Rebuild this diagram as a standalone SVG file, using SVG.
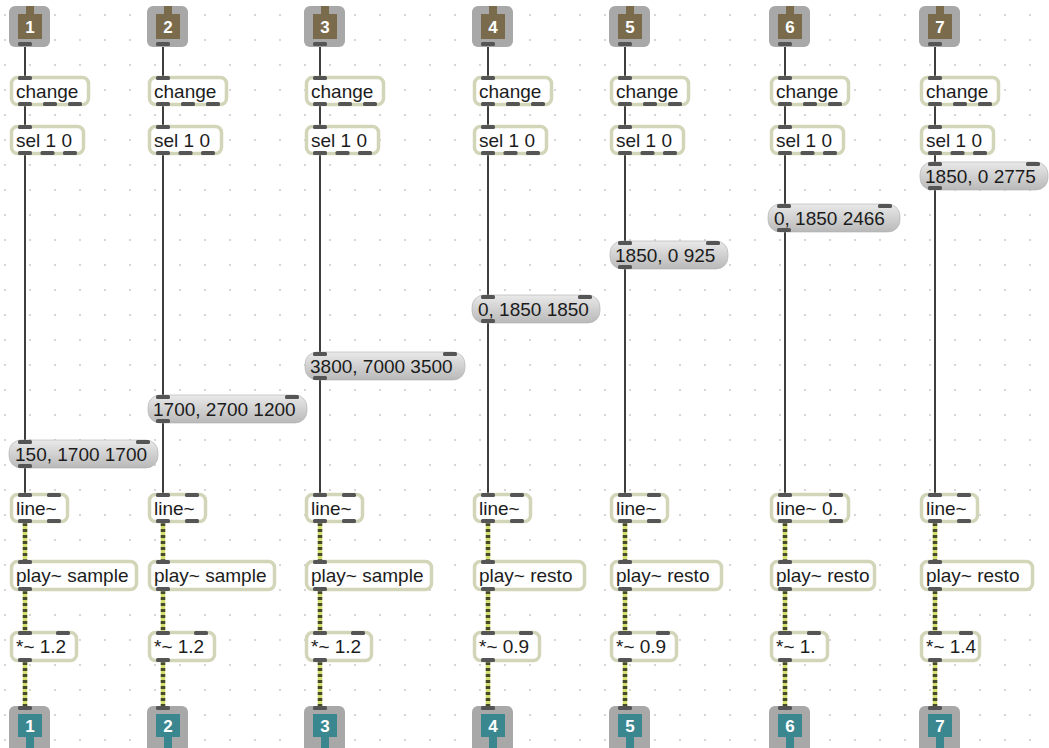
<svg xmlns="http://www.w3.org/2000/svg" width="1049" height="748" viewBox="0 0 1049 748">
<defs>
<pattern id="grid" width="25" height="25" patternUnits="userSpaceOnUse"><circle cx="5" cy="15" r="0.9" fill="#c2c2c2"/></pattern>
<linearGradient id="msgGrad" x1="0" y1="0" x2="0" y2="1"><stop offset="0" stop-color="#e9e9e9"/><stop offset="1" stop-color="#b9b9b9"/></linearGradient>
<style>
.inbox{fill:#a8a8a8}
.brown{fill:#7a6b4c}
.teal{fill:#3b8790}
.num{font-family:"Liberation Sans",Arial,sans-serif;font-size:17px;font-weight:bold;fill:#fff;text-anchor:middle}
.obj{fill:#fff;stroke:#d2d5b8;stroke-width:3.5}
.msg{fill:url(#msgGrad);stroke:#b0b0b0;stroke-width:0.6}
.t{font-family:"Liberation Sans",Arial,sans-serif;font-size:19px;fill:#1c1c1c}
.port{fill:#555}
.ctl{stroke:#2a2a2a;stroke-width:1.8;fill:none}
.sigA{stroke:#d4de6c;stroke-width:4.5;fill:none}
.sigB{stroke:#454b2b;stroke-width:4.5;stroke-dasharray:3 3;fill:none}
</style>
</defs>
<rect width="1049" height="748" fill="#fff"/>
<rect width="1049" height="748" fill="url(#grid)"/>

<g id="connectors">
<g transform="translate(25,0)"><path class="ctl" d="M0,46V77M0,106V125M0,155V440M0,468V493"/><path class="sigA" d="M0,523V560M0,591V631M0,662V706"/><path class="sigB" d="M0,523V560M0,591V631M0,662V706"/></g>
<g transform="translate(163,0)"><path class="ctl" d="M0,46V77M0,106V125M0,155V395M0,423V493"/><path class="sigA" d="M0,523V560M0,591V631M0,662V706"/><path class="sigB" d="M0,523V560M0,591V631M0,662V706"/></g>
<g transform="translate(320,0)"><path class="ctl" d="M0,46V77M0,106V125M0,155V352M0,380V493"/><path class="sigA" d="M0,523V560M0,591V631M0,662V706"/><path class="sigB" d="M0,523V560M0,591V631M0,662V706"/></g>
<g transform="translate(488,0)"><path class="ctl" d="M0,46V77M0,106V125M0,155V295M0,323V493"/><path class="sigA" d="M0,523V560M0,591V631M0,662V706"/><path class="sigB" d="M0,523V560M0,591V631M0,662V706"/></g>
<g transform="translate(625,0)"><path class="ctl" d="M0,46V77M0,106V125M0,155V241M0,269V493"/><path class="sigA" d="M0,523V560M0,591V631M0,662V706"/><path class="sigB" d="M0,523V560M0,591V631M0,662V706"/></g>
<g transform="translate(785,0)"><path class="ctl" d="M0,46V77M0,106V125M0,155V204M0,232V493"/><path class="sigA" d="M0,523V560M0,591V631M0,662V706"/><path class="sigB" d="M0,523V560M0,591V631M0,662V706"/></g>
<g transform="translate(935,0)"><path class="ctl" d="M0,46V77M0,106V125M0,155V162M0,190V493"/><path class="sigA" d="M0,523V560M0,591V631M0,662V706"/><path class="sigB" d="M0,523V560M0,591V631M0,662V706"/></g>
</g>

<!-- column 1 -->
<g id="in1" transform="translate(10,0)"><rect class="inbox" x="-1" y="6" width="41" height="41" rx="6"/><path class="brown" d="M8,14h8v-8h8v8h8v25h-24z"/><text class="num" x="20" y="33">1</text><rect class="port" x="8" y="42" width="14" height="4" rx="1.5"/></g>
<g id="change1" transform="translate(10,0)"><rect class="obj" x="1.5" y="77.5" width="77" height="27" rx="6"/><text class="t" x="6" y="98">change</text><rect class="port" x="8" y="76" width="14" height="4" rx="1.5"/><rect class="port" x="8" y="102" width="14" height="4" rx="1.5"/><rect class="port" x="33" y="102" width="14" height="4" rx="1.5"/><rect class="port" x="58" y="102" width="14" height="4" rx="1.5"/></g>
<g id="sel1" transform="translate(10,0)"><rect class="obj" x="1.5" y="126.5" width="72" height="27" rx="6"/><text class="t" x="6" y="147">sel 1 0</text><rect class="port" x="8" y="125" width="14" height="4" rx="1.5"/><rect class="port" x="8" y="151" width="14" height="4" rx="1.5"/><rect class="port" x="30.5" y="151" width="14" height="4" rx="1.5"/><rect class="port" x="53" y="151" width="14" height="4" rx="1.5"/></g>
<g id="msg1" transform="translate(10,0)"><rect class="msg" x="-1" y="440" width="149" height="28" rx="12"/><text class="t" x="5" y="461">150, 1700 1700</text><rect class="port" x="8" y="440" width="14" height="4" rx="1.5"/><rect class="port" x="126" y="440" width="14" height="4" rx="1.5"/><rect class="port" x="8" y="464" width="14" height="4" rx="1.5"/></g>
<g id="line1" transform="translate(10,0)"><rect class="obj" x="1.5" y="494.5" width="56" height="27" rx="6"/><text class="t" x="6" y="515">line~</text><rect class="port" x="8" y="493" width="14" height="4" rx="1.5"/><rect class="port" x="37" y="493" width="14" height="4" rx="1.5"/><rect class="port" x="8" y="519" width="14" height="4" rx="1.5"/><rect class="port" x="37" y="519" width="14" height="4" rx="1.5"/></g>
<g id="play1" transform="translate(10,0)"><rect class="obj" x="1.5" y="561.5" width="125" height="28" rx="6"/><text class="t" x="6" y="582">play~ sample</text><rect class="port" x="8" y="560" width="14" height="4" rx="1.5"/><rect class="port" x="8" y="587" width="14" height="4" rx="1.5"/></g>
<g id="mul1" transform="translate(10,0)"><rect class="obj" x="1.5" y="632.5" width="65" height="28" rx="6"/><text class="t" x="6" y="653">*~ 1.2</text><rect class="port" x="8" y="631" width="14" height="4" rx="1.5"/><rect class="port" x="46" y="631" width="14" height="4" rx="1.5"/><rect class="port" x="8" y="658" width="14" height="4" rx="1.5"/></g>
<g id="out1" transform="translate(10,0)"><rect class="inbox" x="-1" y="706" width="41" height="48" rx="6"/><path class="teal" d="M8,714h24v23h-8v12h-8v-12h-8z"/><text class="num" x="20" y="732">1</text><rect class="port" x="8" y="706" width="14" height="4" rx="1.5"/></g>

<!-- column 2 -->
<g id="in2" transform="translate(148,0)"><rect class="inbox" x="-1" y="6" width="41" height="41" rx="6"/><path class="brown" d="M8,14h8v-8h8v8h8v25h-24z"/><text class="num" x="20" y="33">2</text><rect class="port" x="8" y="42" width="14" height="4" rx="1.5"/></g>
<g id="change2" transform="translate(148,0)"><rect class="obj" x="1.5" y="77.5" width="77" height="27" rx="6"/><text class="t" x="6" y="98">change</text><rect class="port" x="8" y="76" width="14" height="4" rx="1.5"/><rect class="port" x="8" y="102" width="14" height="4" rx="1.5"/><rect class="port" x="33" y="102" width="14" height="4" rx="1.5"/><rect class="port" x="58" y="102" width="14" height="4" rx="1.5"/></g>
<g id="sel2" transform="translate(148,0)"><rect class="obj" x="1.5" y="126.5" width="72" height="27" rx="6"/><text class="t" x="6" y="147">sel 1 0</text><rect class="port" x="8" y="125" width="14" height="4" rx="1.5"/><rect class="port" x="8" y="151" width="14" height="4" rx="1.5"/><rect class="port" x="30.5" y="151" width="14" height="4" rx="1.5"/><rect class="port" x="53" y="151" width="14" height="4" rx="1.5"/></g>
<g id="msg2" transform="translate(148,0)"><rect class="msg" x="0" y="395" width="159" height="28" rx="12"/><text class="t" x="5" y="416">1700, 2700 1200</text><rect class="port" x="8" y="395" width="14" height="4" rx="1.5"/><rect class="port" x="137" y="395" width="14" height="4" rx="1.5"/><rect class="port" x="8" y="419" width="14" height="4" rx="1.5"/></g>
<g id="line2" transform="translate(148,0)"><rect class="obj" x="1.5" y="494.5" width="56" height="27" rx="6"/><text class="t" x="6" y="515">line~</text><rect class="port" x="8" y="493" width="14" height="4" rx="1.5"/><rect class="port" x="37" y="493" width="14" height="4" rx="1.5"/><rect class="port" x="8" y="519" width="14" height="4" rx="1.5"/><rect class="port" x="37" y="519" width="14" height="4" rx="1.5"/></g>
<g id="play2" transform="translate(148,0)"><rect class="obj" x="1.5" y="561.5" width="125" height="28" rx="6"/><text class="t" x="6" y="582">play~ sample</text><rect class="port" x="8" y="560" width="14" height="4" rx="1.5"/><rect class="port" x="8" y="587" width="14" height="4" rx="1.5"/></g>
<g id="mul2" transform="translate(148,0)"><rect class="obj" x="1.5" y="632.5" width="65" height="28" rx="6"/><text class="t" x="6" y="653">*~ 1.2</text><rect class="port" x="8" y="631" width="14" height="4" rx="1.5"/><rect class="port" x="46" y="631" width="14" height="4" rx="1.5"/><rect class="port" x="8" y="658" width="14" height="4" rx="1.5"/></g>
<g id="out2" transform="translate(148,0)"><rect class="inbox" x="-1" y="706" width="41" height="48" rx="6"/><path class="teal" d="M8,714h24v23h-8v12h-8v-12h-8z"/><text class="num" x="20" y="732">2</text><rect class="port" x="8" y="706" width="14" height="4" rx="1.5"/></g>

<!-- column 3 -->
<g id="in3" transform="translate(305,0)"><rect class="inbox" x="-1" y="6" width="41" height="41" rx="6"/><path class="brown" d="M8,14h8v-8h8v8h8v25h-24z"/><text class="num" x="20" y="33">3</text><rect class="port" x="8" y="42" width="14" height="4" rx="1.5"/></g>
<g id="change3" transform="translate(305,0)"><rect class="obj" x="1.5" y="77.5" width="77" height="27" rx="6"/><text class="t" x="6" y="98">change</text><rect class="port" x="8" y="76" width="14" height="4" rx="1.5"/><rect class="port" x="8" y="102" width="14" height="4" rx="1.5"/><rect class="port" x="33" y="102" width="14" height="4" rx="1.5"/><rect class="port" x="58" y="102" width="14" height="4" rx="1.5"/></g>
<g id="sel3" transform="translate(305,0)"><rect class="obj" x="1.5" y="126.5" width="72" height="27" rx="6"/><text class="t" x="6" y="147">sel 1 0</text><rect class="port" x="8" y="125" width="14" height="4" rx="1.5"/><rect class="port" x="8" y="151" width="14" height="4" rx="1.5"/><rect class="port" x="30.5" y="151" width="14" height="4" rx="1.5"/><rect class="port" x="53" y="151" width="14" height="4" rx="1.5"/></g>
<g id="msg3" transform="translate(305,0)"><rect class="msg" x="0" y="352" width="160" height="28" rx="12"/><text class="t" x="5" y="373">3800, 7000 3500</text><rect class="port" x="8" y="352" width="14" height="4" rx="1.5"/><rect class="port" x="138" y="352" width="14" height="4" rx="1.5"/><rect class="port" x="8" y="376" width="14" height="4" rx="1.5"/></g>
<g id="line3" transform="translate(305,0)"><rect class="obj" x="1.5" y="494.5" width="56" height="27" rx="6"/><text class="t" x="6" y="515">line~</text><rect class="port" x="8" y="493" width="14" height="4" rx="1.5"/><rect class="port" x="37" y="493" width="14" height="4" rx="1.5"/><rect class="port" x="8" y="519" width="14" height="4" rx="1.5"/><rect class="port" x="37" y="519" width="14" height="4" rx="1.5"/></g>
<g id="play3" transform="translate(305,0)"><rect class="obj" x="1.5" y="561.5" width="125" height="28" rx="6"/><text class="t" x="6" y="582">play~ sample</text><rect class="port" x="8" y="560" width="14" height="4" rx="1.5"/><rect class="port" x="8" y="587" width="14" height="4" rx="1.5"/></g>
<g id="mul3" transform="translate(305,0)"><rect class="obj" x="1.5" y="632.5" width="65" height="28" rx="6"/><text class="t" x="6" y="653">*~ 1.2</text><rect class="port" x="8" y="631" width="14" height="4" rx="1.5"/><rect class="port" x="46" y="631" width="14" height="4" rx="1.5"/><rect class="port" x="8" y="658" width="14" height="4" rx="1.5"/></g>
<g id="out3" transform="translate(305,0)"><rect class="inbox" x="-1" y="706" width="41" height="48" rx="6"/><path class="teal" d="M8,714h24v23h-8v12h-8v-12h-8z"/><text class="num" x="20" y="732">3</text><rect class="port" x="8" y="706" width="14" height="4" rx="1.5"/></g>

<!-- column 4 -->
<g id="in4" transform="translate(473,0)"><rect class="inbox" x="-1" y="6" width="41" height="41" rx="6"/><path class="brown" d="M8,14h8v-8h8v8h8v25h-24z"/><text class="num" x="20" y="33">4</text><rect class="port" x="8" y="42" width="14" height="4" rx="1.5"/></g>
<g id="change4" transform="translate(473,0)"><rect class="obj" x="1.5" y="77.5" width="77" height="27" rx="6"/><text class="t" x="6" y="98">change</text><rect class="port" x="8" y="76" width="14" height="4" rx="1.5"/><rect class="port" x="8" y="102" width="14" height="4" rx="1.5"/><rect class="port" x="33" y="102" width="14" height="4" rx="1.5"/><rect class="port" x="58" y="102" width="14" height="4" rx="1.5"/></g>
<g id="sel4" transform="translate(473,0)"><rect class="obj" x="1.5" y="126.5" width="72" height="27" rx="6"/><text class="t" x="6" y="147">sel 1 0</text><rect class="port" x="8" y="125" width="14" height="4" rx="1.5"/><rect class="port" x="8" y="151" width="14" height="4" rx="1.5"/><rect class="port" x="30.5" y="151" width="14" height="4" rx="1.5"/><rect class="port" x="53" y="151" width="14" height="4" rx="1.5"/></g>
<g id="msg4" transform="translate(473,0)"><rect class="msg" x="-1" y="295" width="128" height="28" rx="12"/><text class="t" x="5" y="316">0, 1850 1850</text><rect class="port" x="8" y="295" width="14" height="4" rx="1.5"/><rect class="port" x="105" y="295" width="14" height="4" rx="1.5"/><rect class="port" x="8" y="319" width="14" height="4" rx="1.5"/></g>
<g id="line4" transform="translate(473,0)"><rect class="obj" x="1.5" y="494.5" width="56" height="27" rx="6"/><text class="t" x="6" y="515">line~</text><rect class="port" x="8" y="493" width="14" height="4" rx="1.5"/><rect class="port" x="37" y="493" width="14" height="4" rx="1.5"/><rect class="port" x="8" y="519" width="14" height="4" rx="1.5"/><rect class="port" x="37" y="519" width="14" height="4" rx="1.5"/></g>
<g id="play4" transform="translate(473,0)"><rect class="obj" x="1.5" y="561.5" width="110" height="28" rx="6"/><text class="t" x="6" y="582">play~ resto</text><rect class="port" x="8" y="560" width="14" height="4" rx="1.5"/><rect class="port" x="8" y="587" width="14" height="4" rx="1.5"/></g>
<g id="mul4" transform="translate(473,0)"><rect class="obj" x="1.5" y="632.5" width="65" height="28" rx="6"/><text class="t" x="6" y="653">*~ 0.9</text><rect class="port" x="8" y="631" width="14" height="4" rx="1.5"/><rect class="port" x="46" y="631" width="14" height="4" rx="1.5"/><rect class="port" x="8" y="658" width="14" height="4" rx="1.5"/></g>
<g id="out4" transform="translate(473,0)"><rect class="inbox" x="-1" y="706" width="41" height="48" rx="6"/><path class="teal" d="M8,714h24v23h-8v12h-8v-12h-8z"/><text class="num" x="20" y="732">4</text><rect class="port" x="8" y="706" width="14" height="4" rx="1.5"/></g>

<!-- column 5 -->
<g id="in5" transform="translate(610,0)"><rect class="inbox" x="-1" y="6" width="41" height="41" rx="6"/><path class="brown" d="M8,14h8v-8h8v8h8v25h-24z"/><text class="num" x="20" y="33">5</text><rect class="port" x="8" y="42" width="14" height="4" rx="1.5"/></g>
<g id="change5" transform="translate(610,0)"><rect class="obj" x="1.5" y="77.5" width="77" height="27" rx="6"/><text class="t" x="6" y="98">change</text><rect class="port" x="8" y="76" width="14" height="4" rx="1.5"/><rect class="port" x="8" y="102" width="14" height="4" rx="1.5"/><rect class="port" x="33" y="102" width="14" height="4" rx="1.5"/><rect class="port" x="58" y="102" width="14" height="4" rx="1.5"/></g>
<g id="sel5" transform="translate(610,0)"><rect class="obj" x="1.5" y="126.5" width="72" height="27" rx="6"/><text class="t" x="6" y="147">sel 1 0</text><rect class="port" x="8" y="125" width="14" height="4" rx="1.5"/><rect class="port" x="8" y="151" width="14" height="4" rx="1.5"/><rect class="port" x="30.5" y="151" width="14" height="4" rx="1.5"/><rect class="port" x="53" y="151" width="14" height="4" rx="1.5"/></g>
<g id="msg5" transform="translate(610,0)"><rect class="msg" x="0" y="241" width="118" height="28" rx="12"/><text class="t" x="5" y="262">1850, 0 925</text><rect class="port" x="8" y="241" width="14" height="4" rx="1.5"/><rect class="port" x="96" y="241" width="14" height="4" rx="1.5"/><rect class="port" x="8" y="265" width="14" height="4" rx="1.5"/></g>
<g id="line5" transform="translate(610,0)"><rect class="obj" x="1.5" y="494.5" width="56" height="27" rx="6"/><text class="t" x="6" y="515">line~</text><rect class="port" x="8" y="493" width="14" height="4" rx="1.5"/><rect class="port" x="37" y="493" width="14" height="4" rx="1.5"/><rect class="port" x="8" y="519" width="14" height="4" rx="1.5"/><rect class="port" x="37" y="519" width="14" height="4" rx="1.5"/></g>
<g id="play5" transform="translate(610,0)"><rect class="obj" x="1.5" y="561.5" width="110" height="28" rx="6"/><text class="t" x="6" y="582">play~ resto</text><rect class="port" x="8" y="560" width="14" height="4" rx="1.5"/><rect class="port" x="8" y="587" width="14" height="4" rx="1.5"/></g>
<g id="mul5" transform="translate(610,0)"><rect class="obj" x="1.5" y="632.5" width="65" height="28" rx="6"/><text class="t" x="6" y="653">*~ 0.9</text><rect class="port" x="8" y="631" width="14" height="4" rx="1.5"/><rect class="port" x="46" y="631" width="14" height="4" rx="1.5"/><rect class="port" x="8" y="658" width="14" height="4" rx="1.5"/></g>
<g id="out5" transform="translate(610,0)"><rect class="inbox" x="-1" y="706" width="41" height="48" rx="6"/><path class="teal" d="M8,714h24v23h-8v12h-8v-12h-8z"/><text class="num" x="20" y="732">5</text><rect class="port" x="8" y="706" width="14" height="4" rx="1.5"/></g>

<!-- column 6 -->
<g id="in6" transform="translate(770,0)"><rect class="inbox" x="-1" y="6" width="41" height="41" rx="6"/><path class="brown" d="M8,14h8v-8h8v8h8v25h-24z"/><text class="num" x="20" y="33">6</text><rect class="port" x="8" y="42" width="14" height="4" rx="1.5"/></g>
<g id="change6" transform="translate(770,0)"><rect class="obj" x="1.5" y="77.5" width="77" height="27" rx="6"/><text class="t" x="6" y="98">change</text><rect class="port" x="8" y="76" width="14" height="4" rx="1.5"/><rect class="port" x="8" y="102" width="14" height="4" rx="1.5"/><rect class="port" x="33" y="102" width="14" height="4" rx="1.5"/><rect class="port" x="58" y="102" width="14" height="4" rx="1.5"/></g>
<g id="sel6" transform="translate(770,0)"><rect class="obj" x="1.5" y="126.5" width="72" height="27" rx="6"/><text class="t" x="6" y="147">sel 1 0</text><rect class="port" x="8" y="125" width="14" height="4" rx="1.5"/><rect class="port" x="8" y="151" width="14" height="4" rx="1.5"/><rect class="port" x="30.5" y="151" width="14" height="4" rx="1.5"/><rect class="port" x="53" y="151" width="14" height="4" rx="1.5"/></g>
<g id="msg6" transform="translate(770,0)"><rect class="msg" x="-2" y="204" width="132" height="28" rx="12"/><text class="t" x="4" y="225">0, 1850 2466</text><rect class="port" x="7" y="204" width="14" height="4" rx="1.5"/><rect class="port" x="108" y="204" width="14" height="4" rx="1.5"/><rect class="port" x="7" y="228" width="14" height="4" rx="1.5"/></g>
<g id="line6" transform="translate(770,0)"><rect class="obj" x="1.5" y="494.5" width="77" height="27" rx="6"/><text class="t" x="6" y="515">line~ 0.</text><rect class="port" x="8" y="493" width="14" height="4" rx="1.5"/><rect class="port" x="59" y="493" width="14" height="4" rx="1.5"/><rect class="port" x="8" y="519" width="14" height="4" rx="1.5"/><rect class="port" x="59" y="519" width="14" height="4" rx="1.5"/></g>
<g id="play6" transform="translate(770,0)"><rect class="obj" x="1.5" y="561.5" width="103" height="28" rx="6"/><text class="t" x="6" y="582">play~ resto</text><rect class="port" x="8" y="560" width="14" height="4" rx="1.5"/><rect class="port" x="8" y="587" width="14" height="4" rx="1.5"/></g>
<g id="mul6" transform="translate(770,0)"><rect class="obj" x="1.5" y="632.5" width="56" height="28" rx="6"/><text class="t" x="6" y="653">*~ 1.</text><rect class="port" x="8" y="631" width="14" height="4" rx="1.5"/><rect class="port" x="37" y="631" width="14" height="4" rx="1.5"/><rect class="port" x="8" y="658" width="14" height="4" rx="1.5"/></g>
<g id="out6" transform="translate(770,0)"><rect class="inbox" x="-1" y="706" width="41" height="48" rx="6"/><path class="teal" d="M8,714h24v23h-8v12h-8v-12h-8z"/><text class="num" x="20" y="732">6</text><rect class="port" x="8" y="706" width="14" height="4" rx="1.5"/></g>

<!-- column 7 -->
<g id="in7" transform="translate(920,0)"><rect class="inbox" x="-1" y="6" width="41" height="41" rx="6"/><path class="brown" d="M8,14h8v-8h8v8h8v25h-24z"/><text class="num" x="20" y="33">7</text><rect class="port" x="8" y="42" width="14" height="4" rx="1.5"/></g>
<g id="change7" transform="translate(920,0)"><rect class="obj" x="1.5" y="77.5" width="77" height="27" rx="6"/><text class="t" x="6" y="98">change</text><rect class="port" x="8" y="76" width="14" height="4" rx="1.5"/><rect class="port" x="8" y="102" width="14" height="4" rx="1.5"/><rect class="port" x="33" y="102" width="14" height="4" rx="1.5"/><rect class="port" x="58" y="102" width="14" height="4" rx="1.5"/></g>
<g id="sel7" transform="translate(920,0)"><rect class="obj" x="1.5" y="126.5" width="72" height="27" rx="6"/><text class="t" x="6" y="147">sel 1 0</text><rect class="port" x="8" y="125" width="14" height="4" rx="1.5"/><rect class="port" x="8" y="151" width="14" height="4" rx="1.5"/><rect class="port" x="30.5" y="151" width="14" height="4" rx="1.5"/><rect class="port" x="53" y="151" width="14" height="4" rx="1.5"/></g>
<g id="msg7" transform="translate(920,0)"><rect class="msg" x="0" y="162" width="128" height="28" rx="12"/><text class="t" x="5" y="183">1850, 0 2775</text><rect class="port" x="8" y="162" width="14" height="4" rx="1.5"/><rect class="port" x="106" y="162" width="14" height="4" rx="1.5"/><rect class="port" x="8" y="186" width="14" height="4" rx="1.5"/></g>
<g id="line7" transform="translate(920,0)"><rect class="obj" x="1.5" y="494.5" width="56" height="27" rx="6"/><text class="t" x="6" y="515">line~</text><rect class="port" x="8" y="493" width="14" height="4" rx="1.5"/><rect class="port" x="37" y="493" width="14" height="4" rx="1.5"/><rect class="port" x="8" y="519" width="14" height="4" rx="1.5"/><rect class="port" x="37" y="519" width="14" height="4" rx="1.5"/></g>
<g id="play7" transform="translate(920,0)"><rect class="obj" x="1.5" y="561.5" width="111" height="28" rx="6"/><text class="t" x="6" y="582">play~ resto</text><rect class="port" x="8" y="560" width="14" height="4" rx="1.5"/><rect class="port" x="8" y="587" width="14" height="4" rx="1.5"/></g>
<g id="mul7" transform="translate(920,0)"><rect class="obj" x="1.5" y="632.5" width="58" height="28" rx="6"/><text class="t" x="6" y="653">*~ 1.4</text><rect class="port" x="8" y="631" width="14" height="4" rx="1.5"/><rect class="port" x="39" y="631" width="14" height="4" rx="1.5"/><rect class="port" x="8" y="658" width="14" height="4" rx="1.5"/></g>
<g id="out7" transform="translate(920,0)"><rect class="inbox" x="-1" y="706" width="41" height="48" rx="6"/><path class="teal" d="M8,714h24v23h-8v12h-8v-12h-8z"/><text class="num" x="20" y="732">7</text><rect class="port" x="8" y="706" width="14" height="4" rx="1.5"/></g>
</svg>
